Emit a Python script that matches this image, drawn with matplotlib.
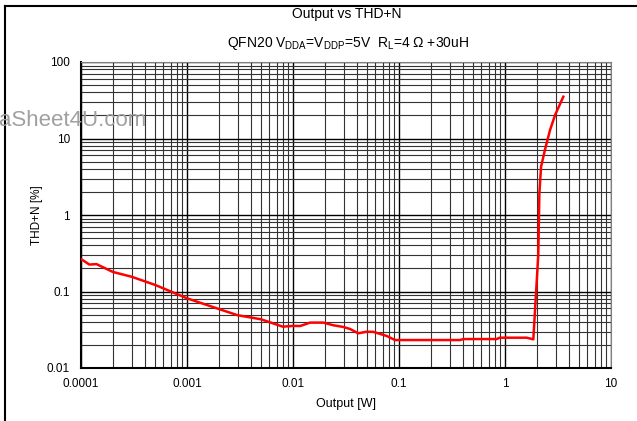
import matplotlib
matplotlib.use("Agg")
import matplotlib.pyplot as plt
from matplotlib.lines import Line2D

plt.rcParams['font.family'] = ['Liberation Sans', 'DejaVu Sans']

# Output power [W] vs THD+N [%]
output_w = [0.0001, 0.00012, 0.00014, 0.0002, 0.0003, 0.0005, 0.001, 0.002, 0.003,
            0.005, 0.008, 0.01, 0.0117, 0.0145, 0.0193, 0.024, 0.0298, 0.0345,
            0.0413, 0.0495, 0.0573, 0.0766, 0.0917, 0.376, 0.406, 0.836, 0.89,
            1.60, 1.85, 2.06, 2.11, 2.19, 2.38, 2.66, 2.97, 3.55]
thd_n = [0.266, 0.225, 0.228, 0.18, 0.156, 0.122, 0.0815, 0.059, 0.049,
         0.0433, 0.0347, 0.0355, 0.0354, 0.0392, 0.0392, 0.0362, 0.0344, 0.0324,
         0.0284, 0.0298, 0.0297, 0.0262, 0.0232, 0.0232, 0.0239, 0.0239, 0.0249,
         0.0249, 0.0237, 0.3, 1.92, 4.29, 7.08, 12.9, 20.3, 35.2]

fig = plt.figure(figsize=(6.37, 4.21), dpi=100)
ax = fig.add_axes([81/637, 1 - 368/421, 530/637, 306/421])

ax.plot(output_w, thd_n, color='#ff0000', lw=1.8, zorder=5)

ax.set_xscale('log')
ax.set_yscale('log')
ax.set_xlim(0.0001, 10)
ax.set_ylim(0.01, 100)

ax.set_xticks([0.0001, 0.001, 0.01, 0.1, 1, 10])
ax.set_xticklabels(['0.0001', '0.001', '0.01', '0.1', '1', '10'])
ax.set_yticks([0.01, 0.1, 1, 10, 100])
ax.set_yticklabels(['0.01', '0.1', '1', '10', '100'])

ax.grid(True, which='major', color='black', lw=1.0)
ax.grid(True, which='minor', color='#333333', lw=0.8)
ax.tick_params(which='both', length=0, labelsize=8.5)
ax.tick_params(axis='x', pad=7)
ax.tick_params(axis='y', pad=8)

for s in ['top', 'right']:
    ax.spines[s].set_color('#808080')
for s in ['left', 'bottom']:
    ax.spines[s].set_color('black')
    ax.spines[s].set_linewidth(1.5)

ax.set_xlabel('Output [W]', fontsize=9, labelpad=6)
ax.set_ylabel('THD+N [%]', fontsize=8.5, labelpad=3)

fig.text(347/637, 1 - 14/421, 'Output vs THD+N', ha='center', va='center', fontsize=10)
fig.text(348/637, 1 - 44/421,
         r'QFN20 V$\mathregular{_{DDA}}$=V$\mathregular{_{DDP}}$=5V  R$\mathregular{_L}$=4 Ω +30uH',
         ha='center', va='center', fontsize=10)

# watermark, cut off at the left edge
fig.text(146/637, 1 - 120/421, 'DataSheet4U.com', ha='right', va='center',
         fontsize=16, color='#a0a0a0')

# outer frame (left and top only visible)
fig.add_artist(Line2D([5/637, 5/637], [0, 1 - 6/421], color='black', lw=1.5, transform=fig.transFigure))
fig.add_artist(Line2D([5/637, 1], [1 - 6/421, 1 - 6/421], color='black', lw=1.5, transform=fig.transFigure))

fig.savefig('out.png', dpi=100)
